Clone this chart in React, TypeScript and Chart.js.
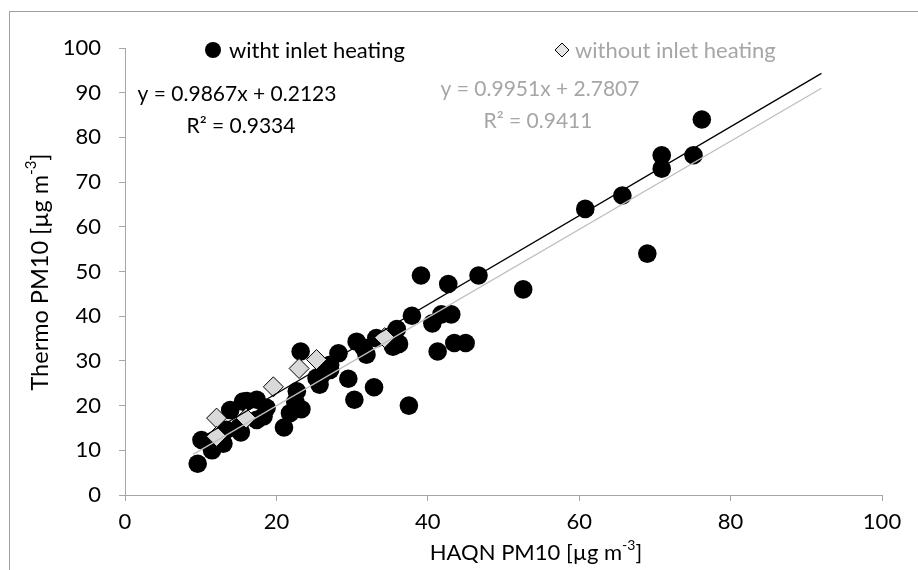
import React, { useEffect, useRef } from "react";
import { Chart, registerables } from "chart.js";

Chart.register(...registerables);

// HAQN PM10 (x) vs Thermo PM10 (y), with inlet heating
const withHeatingX = [9.6, 10.1, 11.5, 13.0, 13.4, 13.9, 15.1, 15.3, 16.1, 17.4, 18.3, 17.4, 18.7, 15.6, 21.0, 21.8, 23.3, 22.5, 22.7, 23.2, 25.7, 25.3, 26.0, 27.1, 27.1, 28.2, 29.5, 30.3, 30.6, 31.9, 31.5, 32.9, 33.2, 35.4, 35.9, 36.2, 37.5, 37.9, 39.1, 40.6, 41.3, 41.8, 42.7, 43.1, 43.5, 45.0, 46.7, 52.6, 60.8, 65.7, 69.0, 70.9, 70.9, 75.1, 76.2];
const withHeatingY = [7.0, 12.3, 10.0, 11.5, 14.6, 19.0, 15.2, 14.0, 21.0, 16.8, 17.6, 21.3, 19.5, 20.9, 15.1, 18.3, 19.2, 20.8, 23.2, 32.1, 24.7, 26.2, 26.9, 28.0, 29.1, 31.7, 26.0, 21.3, 34.3, 31.4, 33.0, 24.1, 35.1, 33.2, 37.1, 33.8, 20.0, 40.1, 49.1, 38.4, 32.1, 40.4, 47.2, 40.4, 34.0, 34.0, 49.1, 46.0, 64.0, 67.0, 54.0, 76.0, 73.0, 76.0, 84.0];

// without inlet heating
const withoutHeatingX = [12.1, 12.1, 16.0, 19.6, 23.0, 25.3, 34.3];
const withoutHeatingY = [17.2, 13.1, 17.2, 24.2, 28.3, 30.3, 35.2];

// trendlines as drawn (slope, intercept)
const blackTrend = [0.9951, 2.7807];
const grayTrend = [0.9867, 0.2123];
const trendRange = [9, 92];

const xTicks = [0, 20, 40, 60, 80, 100];
const yTicks = [0, 10, 20, 30, 40, 50, 60, 70, 80, 90, 100];

const legendLabels = ["witht inlet heating", "without inlet heating"];
const eqWith = ["y = 0.9867x + 0.2123", "R\u00B2 = 0.9334"];
const eqWithout = ["y = 0.9951x + 2.7807", "R\u00B2 = 0.9411"];
const xTitleParts = ["HAQN PM10 [\u00B5g m", "-3", "]"];
const yTitleParts = ["Thermo PM10 [\u00B5g m", "-3", "]"];

const FONT = "Lato, 'Open Sans', sans-serif";
const GRAY_TEXT = "#A6A6A6";
const AXIS = "#A6A6A6";

function trendPoints(coef: number[]) {
  return trendRange.map((x) => ({ x, y: coef[0] * x + coef[1] }));
}

function drawSupText(
  ctx: CanvasRenderingContext2D,
  parts: string[],
  x: number,
  y: number,
  size: number,
  color: string
) {
  const main = `${size}px ${FONT}`;
  const sup = `${Math.round(size * 0.62)}px ${FONT}`;
  ctx.font = main;
  const w0 = ctx.measureText(parts[0]).width;
  const w2 = ctx.measureText(parts[2]).width;
  ctx.font = sup;
  const w1 = ctx.measureText(parts[1]).width;
  const total = w0 + w1 + w2;
  let cx = x - total / 2;
  ctx.fillStyle = color;
  ctx.textAlign = "left";
  ctx.textBaseline = "middle";
  ctx.font = main;
  ctx.fillText(parts[0], cx, y);
  cx += w0;
  ctx.font = sup;
  ctx.fillText(parts[1], cx, y - size * 0.36);
  cx += w1;
  ctx.font = main;
  ctx.fillText(parts[2], cx, y);
}

const decorPlugin = {
  id: "decor",
  beforeDraw(chart: any) {
    const ctx = chart.ctx as CanvasRenderingContext2D;
    ctx.save();
    ctx.fillStyle = "#fff";
    ctx.fillRect(0, 0, chart.width, chart.height);
    ctx.strokeStyle = "#A0A0A0";
    ctx.lineWidth = 1;
    ctx.strokeRect(9.5, 11.5, 2000, 2000);
    ctx.restore();
  },
  afterDraw(chart: any) {
    const ctx = chart.ctx as CanvasRenderingContext2D;
    ctx.save();
    // legend
    ctx.textBaseline = "middle";
    ctx.textAlign = "left";
    ctx.font = `22px ${FONT}`;
    ctx.fillStyle = "#000";
    ctx.beginPath();
    ctx.arc(213, 50, 8, 0, Math.PI * 2);
    ctx.fill();
    ctx.fillText(legendLabels[0], 229, 51);
    // diamond
    ctx.beginPath();
    ctx.moveTo(562, 43);
    ctx.lineTo(569, 50);
    ctx.lineTo(562, 57);
    ctx.lineTo(555, 50);
    ctx.closePath();
    ctx.fillStyle = "#E6E6E6";
    ctx.fill();
    ctx.strokeStyle = "#000";
    ctx.lineWidth = 1;
    ctx.stroke();
    ctx.fillStyle = GRAY_TEXT;
    ctx.fillText(legendLabels[1], 575, 51);

    // equations
    ctx.textAlign = "center";
    ctx.font = `21px ${FONT}`;
    ctx.fillStyle = "#000";
    ctx.fillText(eqWith[0], 237, 94);
    ctx.fillText(eqWith[1], 241, 126);
    ctx.fillStyle = GRAY_TEXT;
    ctx.fillText(eqWithout[0], 540, 89);
    ctx.fillText(eqWithout[1], 538, 121);

    // axis titles
    drawSupText(ctx, xTitleParts, 536, 553, 22, "#000");
    ctx.save();
    ctx.translate(40, 272);
    ctx.rotate(-Math.PI / 2);
    drawSupText(ctx, yTitleParts, 0, 0, 23.5, "#000");
    ctx.restore();
    ctx.restore();
  },
};

export default function App() {
  const ref = useRef<HTMLCanvasElement | null>(null);
  useEffect(() => {
    if (!ref.current) return;
    const tickFont = { family: FONT, size: 22 };
    const chart = new Chart(ref.current, {
      type: "scatter",
      data: {
        datasets: [
          {
            label: "black trend",
            data: trendPoints(blackTrend),
            showLine: true,
            borderColor: "#000",
            borderWidth: 1.3,
            pointRadius: 0,
            order: 0,
          } as any,
          {
            label: "gray trend",
            data: trendPoints(grayTrend),
            showLine: true,
            borderColor: "#BFBFBF",
            borderWidth: 1.3,
            pointRadius: 0,
            order: 1,
          } as any,
          {
            label: legendLabels[1],
            data: withoutHeatingX.map((x, i) => ({ x, y: withoutHeatingY[i] })),
            pointStyle: "rectRot",
            pointRadius: 10,
            backgroundColor: "#D9D9D9",
            borderColor: "#000",
            borderWidth: 1,
            order: 2,
          } as any,
          {
            label: legendLabels[0],
            data: withHeatingX.map((x, i) => ({ x, y: withHeatingY[i] })),
            pointStyle: "circle",
            pointRadius: 9.3,
            backgroundColor: "#000",
            borderColor: "#000",
            borderWidth: 0,
            order: 3,
          } as any,
        ],
      },
      options: {
        animation: false,
        responsive: false,
        events: [],
        layout: { padding: { left: 0, top: 48, right: 36, bottom: 0 } },
        plugins: {
          legend: { display: false },
          tooltip: { enabled: false },
        },
        scales: {
          x: {
            type: "linear",
            min: 0,
            max: 100,
            afterBuildTicks: (s: any) => {
              s.ticks = xTicks.map((v) => ({ value: v }));
            },
            afterFit: (s: any) => {
              s.height = 75;
            },
            ticks: { font: tickFont, color: "#000", padding: 8 },
            grid: {
              display: true,
              drawOnChartArea: false,
              drawTicks: true,
              tickLength: 6,
              color: AXIS,
            },
            border: { display: true, color: AXIS, width: 1 },
          },
          y: {
            type: "linear",
            min: 0,
            max: 100,
            afterBuildTicks: (s: any) => {
              s.ticks = yTicks.map((v) => ({ value: v }));
            },
            afterFit: (s: any) => {
              s.width = 125;
            },
            ticks: { font: tickFont, color: "#000", padding: 18 },
            grid: {
              display: true,
              drawOnChartArea: false,
              drawTicks: true,
              tickLength: 6,
              color: AXIS,
            },
            border: { display: true, color: AXIS, width: 1 },
          },
        },
      },
      plugins: [decorPlugin],
    } as any);
    return () => chart.destroy();
  }, []);
  return (
    <div style={{ position: "absolute", left: 0, top: 0, width: 918, height: 570 }}>
      <canvas ref={ref} width={918} height={570} style={{ display: "block" }} />
    </div>
  );
}
